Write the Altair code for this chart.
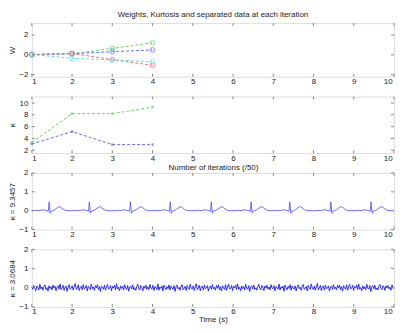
import altair as alt
import pandas as pd

# ---------------- data ----------------
ITER = [1, 2, 3, 4]
W_GREEN = [0.0, 0.12, 0.65, 1.22]
W_BLUE = [0.02, 0.12, 0.32, 0.50]
W_RED = [0.05, 0.15, -0.48, -1.05]
W_CYAN = [0.05, -0.35, -0.50, -0.70]

K_GREEN = [3.3, 8.2, 8.2, 9.3]
K_BLUE = [3.05, 5.15, 2.95, 2.95]

# ECG-like separated source: R-peak times and one beat shape (offset s, value)
BEATS = [1.43, 2.43, 3.45, 4.44, 5.46, 6.45, 7.41, 8.43, 9.43]
BEAT_OFF = [-0.40, -0.32, -0.25, -0.20, -0.15, -0.10, -0.05, -0.02, 0.0, 0.025,
            0.05, 0.09, 0.14, 0.19, 0.24, 0.27, 0.31, 0.36, 0.42, 0.50]
BEAT_VAL = [0.0, 0.02, 0.0, 0.03, 0.05, 0.02, 0.0, -0.03, 0.47, -0.14,
            -0.03, 0.0, 0.05, 0.13, 0.20, 0.21, 0.15, 0.06, 0.01, 0.0]

# noise-like separated source (hundredths), read as a dense band
NOISE = [
    5, -8, 12, -3, -15, 9, 2, -11, 18, -6, 4, -13, 7, 15, -9, 1, -18, 10, -4, 6,
    -12, 14, -2, 8, -16, 3, 11, -7, 20, -10, -1, 13, -14, 5, 9, -19, 2, 16, -8, -3,
    10, -12, 6, 22, -9, -4, 15, -15, 3, 8, -11, 17, -6, -2, 12, -17, 7, 1, -9, 19,
    -5, 4, -14, 11, -1, 16, -10, 6, -20, 9, 2, -8, 14, -13, 5, 18, -7, -3, 11, -16,
    8, -2, 13, -11, 21, -6, 3, -15, 10, -4, 7, -12, 16, -1, -9, 12, -18, 4, 9, -7,
    15, -10, 1, -14, 6, 19, -5, -12, 11, 2, -16, 8, -3, 14, -8, 5, -11, 17, -2, -6,
    12, -15, 7, 3, -9, 20, -13, 4, -4, 10, -17, 13, 0, -10, 6, -5, 15, -12, 8, -1,
    -8, 11, -19, 5, 14, -6, 2, -13, 9, 16, -11, -3, 7, -15, 12, 1, -9, 18, -4, -7,
    10, -14, 4, 21, -10, -2, 13, -16, 6, 8, -12, 15, -5, -1, 11, -18, 3, 9, -8, 17,
    -6, 2, -13, 12, -3, 15, -11, 5, -17, 10, 1, -9, 16, -14, 4, 19, -6, -4, 12, -15,
    7, -1, 14, -10, 20, -7, 2, -16, 9, -5, 6, -11, 17, -2, -8, 11, -19, 5, 10, -6,
    14, -9, 0, -13, 7, 18, -4, -11, 12, 3, -15, 9, -2, 13, -7, 4, -12, 16, -1, -5,
    11, -16, 6, 2, -8, 19, -12, 5, -3, 9, -18, 14, 1, -11, 7, -4, 16, -13, 9, -2,
    -7, 10, -17, 4, 15, -5, 3, -14, 8, 17, -10, -2, 6, -16, 13, 0, -8, 20, -3, -9,
    9, -13, 5, 22, -11, -1, 12, -15, 7, 9, -13, 14, -4, -2, 10, -17, 4, 8, -9, 16,
    -5, 3, -12, 13, -2, 14, -10, 6, -18, 11, 0, -8, 15, -13, 5, 18, -5, -3, 13, -14,
    6, -2, 15, -9, 19, -8, 1, -15, 10, -6, 5, -10, 18, -3, -7, 12, -20, 6, 11, -5,
    13, -10, -1, -12, 8, 17, -3, -10, 11, 4, -14, 10, -1, 12, -6, 3, -13, 15, 0, -4,
]

X_TICKS = [1, 2, 3, 4, 5, 6, 7, 8, 9, 10]
W_TICKS = [-2, 0, 2]
K_TICKS = [2, 4, 6, 8, 10]
S_TICKS = [-1, 0, 1, 2]

# ---------------- styling ----------------
FONT = "Liberation Sans"
GRAY = "#8a8a8a"
TXT = "#222222"
PW = 365
C_GREEN, C_BLUE, C_RED, C_CYAN = "#5fd85f", "#6a6aff", "#ff6a6a", "#5fdede"


def xenc(title=None, tpad=2, lpad=1):
    kw = dict(values=X_TICKS, format="d", ticks=False, domain=False, grid=False,
              labelPadding=lpad, labelFontSize=8, labelFont=FONT, labelColor=TXT,
              labelOffset={"condition": {"test": "datum.value == 10", "value": -2},
                           "value": 0})
    if title:
        kw.update(title=title, titleFontSize=8, titleFont=FONT, titleFontWeight="normal",
                  titleColor=TXT, titlePadding=tpad)
    else:
        kw.update(title=None)
    return alt.X("x:Q", scale=alt.Scale(domain=[1, 10], nice=False, zero=False),
                 axis=alt.Axis(**kw))


def yenc(dom, ticks, title, h):
    return alt.Y("y:Q", scale=alt.Scale(domain=dom, nice=False, zero=False),
                 axis=alt.Axis(values=ticks, format="d", ticks=False, domain=False,
                               grid=False, labelPadding=4, labelFontSize=8,
                               labelFont=FONT, labelColor=TXT, title=title,
                               titleFontSize=8, titleFont=FONT,
                               titleFontWeight="normal", titleColor=TXT,
                               titleX=-15, titleY=h / 2, titleAngle=270,
                               titleBaseline="bottom", titleAlign="center"))


def tick_layers(xe, ye, yticks, h):
    tx = pd.DataFrame({"x": X_TICKS})
    ty = pd.DataFrame({"y": yticks})
    return [
        alt.Chart(tx).mark_rule(color=GRAY, strokeWidth=1).encode(
            x=xe, y=alt.value(0), y2=alt.value(3)),
        alt.Chart(tx).mark_rule(color=GRAY, strokeWidth=1).encode(
            x=xe, y=alt.value(h), y2=alt.value(h - 3)),
        alt.Chart(ty).mark_rule(color=GRAY, strokeWidth=1).encode(
            y=ye, x=alt.value(0), x2=alt.value(3)),
        alt.Chart(ty).mark_rule(color=GRAY, strokeWidth=1).encode(
            y=ye, x=alt.value(PW), x2=alt.value(PW - 3)),
    ]


# ---------------- panel 1: weights ----------------
H1 = 54
D1 = [-2.2, 3.2]
rows = []
for name, vals in [("g", W_GREEN), ("b", W_BLUE), ("r", W_RED), ("c", W_CYAN)]:
    for i, v in zip(ITER, vals):
        rows.append({"x": i, "y": v, "s": name})
df1 = pd.DataFrame(rows)
cscale = alt.Scale(domain=["g", "b", "r", "c"], range=[C_GREEN, C_BLUE, C_RED, C_CYAN])
x1, y1 = xenc(), yenc(D1, W_TICKS, "W", H1)
l1 = alt.Chart(df1).mark_line(strokeDash=[3, 2], strokeWidth=1).encode(
    x=x1, y=y1, color=alt.Color("s:N", scale=cscale, legend=None), detail="s:N")
p1pts = alt.Chart(df1).mark_point(shape="circle", filled=False, size=22, strokeWidth=1).encode(
    x=x1, y=y1, color=alt.Color("s:N", scale=cscale, legend=None))
p1 = alt.layer(l1, p1pts, *tick_layers(x1, y1, W_TICKS, H1)).properties(
    width=PW, height=H1,
    title=alt.TitleParams("Weights, Kurtosis and separated data at each iteration",
                          fontSize=8, font=FONT, fontWeight="normal", color=TXT,
                          anchor="middle", offset=4))

# ---------------- panel 2: kurtosis ----------------
H2 = 57
D2 = [1.5, 11.1]
rows = []
for name, vals in [("g", K_GREEN), ("b", K_BLUE)]:
    for i, v in zip(ITER, vals):
        rows.append({"x": i, "y": v, "s": name})
df2 = pd.DataFrame(rows)
cs2 = alt.Scale(domain=["g", "b"], range=[C_GREEN, C_BLUE])
x2, y2 = xenc("Number of iterations (/50)", 2), yenc(D2, K_TICKS, "κ", H2)
l2 = alt.Chart(df2).mark_line(strokeDash=[3, 2], strokeWidth=1).encode(
    x=x2, y=y2, color=alt.Color("s:N", scale=cs2, legend=None), detail="s:N")
p2pts = alt.Chart(df2).mark_point(shape="square", filled=True, size=6).encode(
    x=x2, y=y2, color=alt.Color("s:N", scale=cs2, legend=None))
p2 = alt.layer(l2, p2pts, *tick_layers(x2, y2, K_TICKS, H2)).properties(width=PW, height=H2)

# ---------------- panel 3: ECG-like source ----------------
H3 = 57
D3 = [-1, 2]
ts, vs = [1.0], [0.0]
for b in BEATS:
    for o, v in zip(BEAT_OFF, BEAT_VAL):
        ts.append(round(b + o, 4))
        vs.append(v)
ts.append(10.0)
vs.append(0.0)
df3 = pd.DataFrame({"x": ts, "y": vs})
x3, y3 = xenc(), yenc(D3, S_TICKS, "κ = 9.3457", H3)
l3 = alt.Chart(df3).mark_line(color="#5a5aff", strokeWidth=0.9).encode(x=x3, y=y3)
p3 = alt.layer(l3, *tick_layers(x3, y3, S_TICKS, H3)).properties(width=PW, height=H3)

# ---------------- panel 4: noise-like source ----------------
H4 = 58
n = len(NOISE)
df4 = pd.DataFrame({"x": [1 + 9 * i / (n - 1) for i in range(n)],
                    "y": [v / 100 for v in NOISE]})
x4, y4 = xenc("Time (s)", 0, 1), yenc(D3, S_TICKS, "κ = 3.0684", H4)
l4 = alt.Chart(df4).mark_line(color="#1a1aff", strokeWidth=0.9).encode(x=x4, y=y4)
p4 = alt.layer(l4, *tick_layers(x4, y4, S_TICKS, H4)).properties(width=PW, height=H4)

chart = alt.vconcat(p1, p2, p3, p4, spacing=20, bounds="flush").properties(
    padding={"left": 0, "top": 1, "right": 0, "bottom": 0}
).configure_view(stroke=GRAY, strokeWidth=1).configure(background="white")

chart.save("out.html", embed_options={"renderer": "svg", "actions": False})
